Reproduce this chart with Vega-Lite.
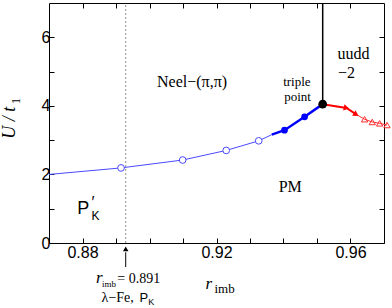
{
  "$schema": "https://vega.github.io/schema/vega-lite/v6.json",
  "width": 335,
  "height": 240,
  "autosize": {"type": "none"},
  "padding": {"left": 49, "top": 3, "right": 8, "bottom": 65},
  "config": {
    "view": {"stroke": null},
    "axis": {"grid": false, "domainColor": "black", "tickColor": "black", "labelColor": "black", "labelFont": "Liberation Sans", "labelFontSize": 16, "title": null, "domainWidth": 1, "tickWidth": 1},
    "text": {"fill": "black", "fontWeight": "normal"}
  },
  "datasets": {
    "dash": [{"x": 0.8929, "y": 0, "y2": 7}],
    "vline": [{"x": 0.9517, "y": 4.05, "y2": 7}],
    "thinBlue": [
      {"x": 0.87, "y": 2.0}, {"x": 0.8915, "y": 2.19}, {"x": 0.9099, "y": 2.42},
      {"x": 0.9229, "y": 2.70}, {"x": 0.9326, "y": 2.98}, {"x": 0.9365, "y": 3.16}
    ],
    "thickBlue": [
      {"x": 0.9365, "y": 3.16}, {"x": 0.9403, "y": 3.29}, {"x": 0.9463, "y": 3.68}, {"x": 0.9517, "y": 4.05}
    ],
    "openCircles": [
      {"x": 0.8915, "y": 2.19}, {"x": 0.9099, "y": 2.42}, {"x": 0.9229, "y": 2.70}, {"x": 0.9326, "y": 2.98}
    ],
    "filledCircles": [{"x": 0.9403, "y": 3.29}, {"x": 0.9463, "y": 3.68}],
    "triple": [{"x": 0.9517, "y": 4.05}],
    "redThick": [{"x": 0.9517, "y": 4.05}, {"x": 0.9588, "y": 3.94}, {"x": 0.9617, "y": 3.75}],
    "redThin": [
      {"x": 0.9617, "y": 3.75}, {"x": 0.9642, "y": 3.61}, {"x": 0.9665, "y": 3.53},
      {"x": 0.9687, "y": 3.49}, {"x": 0.9709, "y": 3.44}
    ],
    "redFilled": [{"x": 0.9588, "y": 3.94}, {"x": 0.9617, "y": 3.75}],
    "redOpen": [{"x": 0.9642, "y": 3.61}, {"x": 0.9665, "y": 3.53}, {"x": 0.9687, "y": 3.49}, {"x": 0.9709, "y": 3.44}],
    "arrow": [{"x": 0.8929, "y": -0.27, "y2": -0.70}],
    "arrowHead": [{"x": 0.8929, "y": -0.17}],
    "serif16": [
      {"x": 0.9127, "y": 4.70, "t": "Neel−(π,π)"},
      {"x": 0.9420, "y": 1.64, "t": "PM"},
      {"x": 0.9609, "y": 5.51, "t": "uudd"},
      {"x": 0.9588, "y": 4.96, "t": "−2"}
    ],
    "serif13": [
      {"x": 0.9440, "y": 4.70, "t": "triple"},
      {"x": 0.9442, "y": 4.26, "t": "point"}
    ]
  },
  "layer": [
    {
      "data": {"name": "dash"},
      "mark": {"type": "rule", "color": "#909090", "strokeWidth": 1, "strokeDash": [2, 2]},
      "encoding": {
        "x": {"field": "x", "type": "quantitative", "scale": {"domain": [0.87, 0.97], "nice": false, "zero": false},
          "axis": {"orient": "bottom", "values": [0.88, 0.89, 0.9, 0.91, 0.92, 0.93, 0.94, 0.95, 0.96], "tickSize": -5, "labelPadding": 6,
            "labelExpr": "indexof(['0.88','0.92','0.96'], format(datum.value, '.2f')) >= 0 ? format(datum.value, '.2f') : ''"}},
        "y": {"field": "y", "type": "quantitative", "scale": {"domain": [0, 7], "nice": false, "zero": false},
          "axis": {"orient": "left", "values": [0, 1, 2, 3, 4, 5, 6], "tickSize": -5, "labelPadding": 4,
            "labelExpr": "datum.value % 2 == 0 ? datum.label : ''"}},
        "y2": {"field": "y2"}
      }
    },
    {
      "data": {"name": "vline"},
      "mark": {"type": "rule", "color": "black", "strokeWidth": 1.5},
      "encoding": {
        "x": {"field": "x", "type": "quantitative", "scale": {"domain": [0.87, 0.97], "nice": false, "zero": false},
          "axis": {"orient": "top", "values": [0.88, 0.89, 0.9, 0.91, 0.92, 0.93, 0.94, 0.95, 0.96], "tickSize": -5, "labels": false}},
        "y": {"field": "y", "type": "quantitative", "scale": {"domain": [0, 7], "nice": false, "zero": false},
          "axis": {"orient": "right", "values": [0, 1, 2, 3, 4, 5, 6], "tickSize": -5, "labels": false}},
        "y2": {"field": "y2"}
      }
    },
    {
      "data": {"name": "thinBlue"},
      "mark": {"type": "line", "color": "#4a4aff", "strokeWidth": 1},
      "encoding": {
        "x": {"field": "x", "type": "quantitative", "axis": null},
        "y": {"field": "y", "type": "quantitative", "axis": null}
      }
    },
    {
      "data": {"name": "thickBlue"},
      "mark": {"type": "line", "color": "#0000ff", "strokeWidth": 2.5},
      "encoding": {
        "x": {"field": "x", "type": "quantitative", "axis": null},
        "y": {"field": "y", "type": "quantitative", "axis": null}
      }
    },
    {
      "data": {"name": "redThick"},
      "mark": {"type": "line", "color": "#ff0000", "strokeWidth": 2},
      "encoding": {
        "x": {"field": "x", "type": "quantitative", "axis": null},
        "y": {"field": "y", "type": "quantitative", "axis": null}
      }
    },
    {
      "data": {"name": "redThin"},
      "mark": {"type": "line", "color": "#ff3030", "strokeWidth": 1},
      "encoding": {
        "x": {"field": "x", "type": "quantitative", "axis": null},
        "y": {"field": "y", "type": "quantitative", "axis": null}
      }
    },
    {
      "data": {"name": "openCircles"},
      "mark": {"type": "point", "shape": "circle", "size": 45, "stroke": "#4a4aff", "strokeWidth": 1, "fill": "white", "filled": false, "opacity": 1},
      "encoding": {
        "x": {"field": "x", "type": "quantitative", "axis": null},
        "y": {"field": "y", "type": "quantitative", "axis": null}
      }
    },
    {
      "data": {"name": "filledCircles"},
      "mark": {"type": "point", "shape": "circle", "size": 45, "color": "#0000ff", "filled": true, "opacity": 1},
      "encoding": {
        "x": {"field": "x", "type": "quantitative", "axis": null},
        "y": {"field": "y", "type": "quantitative", "axis": null}
      }
    },
    {
      "data": {"name": "triple"},
      "mark": {"type": "point", "shape": "circle", "size": 75, "color": "black", "filled": true, "opacity": 1},
      "encoding": {
        "x": {"field": "x", "type": "quantitative", "axis": null},
        "y": {"field": "y", "type": "quantitative", "axis": null}
      }
    },
    {
      "data": {"name": "redFilled"},
      "transform": [{"filter": "datum.x < 0.96"}],
      "mark": {"type": "point", "shape": "triangle-right", "size": 40, "color": "#ff0000", "filled": true, "opacity": 1, "angle": 12},
      "encoding": {
        "x": {"field": "x", "type": "quantitative", "axis": null},
        "y": {"field": "y", "type": "quantitative", "axis": null}
      }
    },
    {
      "data": {"name": "redFilled"},
      "transform": [{"filter": "datum.x > 0.96"}],
      "mark": {"type": "point", "shape": "triangle-right", "size": 40, "color": "#ff0000", "filled": true, "opacity": 1, "angle": 32},
      "encoding": {
        "x": {"field": "x", "type": "quantitative", "axis": null},
        "y": {"field": "y", "type": "quantitative", "axis": null}
      }
    },
    {
      "data": {"name": "redOpen"},
      "mark": {"type": "point", "shape": "triangle-up", "size": 40, "stroke": "#ff3030", "strokeWidth": 1, "filled": false, "opacity": 1},
      "encoding": {
        "x": {"field": "x", "type": "quantitative", "axis": null},
        "y": {"field": "y", "type": "quantitative", "axis": null}
      }
    },
    {
      "data": {"name": "arrow"},
      "mark": {"type": "rule", "color": "black", "strokeWidth": 1},
      "encoding": {
        "x": {"field": "x", "type": "quantitative", "axis": null},
        "y": {"field": "y", "type": "quantitative", "axis": null},
        "y2": {"field": "y2"}
      }
    },
    {
      "data": {"name": "arrowHead"},
      "mark": {"type": "point", "shape": "triangle-up", "size": 30, "color": "black", "filled": true, "opacity": 1},
      "encoding": {
        "x": {"field": "x", "type": "quantitative", "axis": null},
        "y": {"field": "y", "type": "quantitative", "axis": null}
      }
    },
    {
      "data": {"name": "serif16"},
      "mark": {"type": "text", "font": "Liberation Serif", "fontSize": 16, "fill": "black", "align": "center", "baseline": "middle"},
      "encoding": {
        "x": {"field": "x", "type": "quantitative", "axis": null},
        "y": {"field": "y", "type": "quantitative", "axis": null},
        "text": {"field": "t"}
      }
    },
    {
      "data": {"name": "serif13"},
      "mark": {"type": "text", "font": "Liberation Serif", "fontSize": 13, "fill": "black", "align": "center", "baseline": "middle"},
      "encoding": {
        "x": {"field": "x", "type": "quantitative", "axis": null},
        "y": {"field": "y", "type": "quantitative", "axis": null},
        "text": {"field": "t"}
      }
    },
    {
      "data": {"values": [{"x": 0.8802, "y": 1.005, "t": "P"}]},
      "mark": {"type": "text", "font": "Liberation Sans", "fontSize": 18, "fill": "black", "align": "center", "baseline": "middle"},
      "encoding": {
        "x": {"field": "x", "type": "quantitative", "axis": null},
        "y": {"field": "y", "type": "quantitative", "axis": null},
        "text": {"field": "t"}
      }
    },
    {
      "data": {"values": [{"x": 0.8831, "y": 1.17, "t": "′"}]},
      "mark": {"type": "text", "font": "Liberation Sans", "fontSize": 16, "fill": "black", "align": "center", "baseline": "middle"},
      "encoding": {
        "x": {"field": "x", "type": "quantitative", "axis": null},
        "y": {"field": "y", "type": "quantitative", "axis": null},
        "text": {"field": "t"}
      }
    },
    {
      "data": {"values": [{"x": 0.8839, "y": 0.78, "t": "K"}]},
      "mark": {"type": "text", "font": "Liberation Sans", "fontSize": 12, "fill": "black", "align": "center", "baseline": "middle"},
      "encoding": {
        "x": {"field": "x", "type": "quantitative", "axis": null},
        "y": {"field": "y", "type": "quantitative", "axis": null},
        "text": {"field": "t"}
      }
    },
    {
      "data": {"values": [{"x": 0.8840, "y": -1.18, "t": "r"}, {"x": 0.9167, "y": -1.35, "t": "r"}]},
      "mark": {"type": "text", "font": "Liberation Serif", "fontStyle": "italic", "fontSize": 17, "fill": "black", "align": "left", "baseline": "alphabetic"},
      "encoding": {
        "x": {"field": "x", "type": "quantitative", "axis": null},
        "y": {"field": "y", "type": "quantitative", "axis": null},
        "text": {"field": "t"}
      }
    },
    {
      "data": {"values": [{"x": 0.8858, "y": -1.27, "t": "imb"}]},
      "mark": {"type": "text", "font": "Liberation Serif", "fontSize": 9, "fill": "black", "align": "left", "baseline": "alphabetic"},
      "encoding": {
        "x": {"field": "x", "type": "quantitative", "axis": null},
        "y": {"field": "y", "type": "quantitative", "axis": null},
        "text": {"field": "t"}
      }
    },
    {
      "data": {"values": [{"x": 0.9194, "y": -1.47, "t": "imb"}]},
      "mark": {"type": "text", "font": "Liberation Serif", "fontSize": 13, "fill": "black", "align": "left", "baseline": "alphabetic"},
      "encoding": {
        "x": {"field": "x", "type": "quantitative", "axis": null},
        "y": {"field": "y", "type": "quantitative", "axis": null},
        "text": {"field": "t"}
      }
    },
    {
      "data": {"values": [{"x": 0.8904, "y": -1.18, "t": "= 0.891"}, {"x": 0.8857, "y": -1.73, "t": "λ−Fe,"}]},
      "mark": {"type": "text", "font": "Liberation Serif", "fontSize": 14, "fill": "black", "align": "left", "baseline": "alphabetic"},
      "encoding": {
        "x": {"field": "x", "type": "quantitative", "axis": null},
        "y": {"field": "y", "type": "quantitative", "axis": null},
        "text": {"field": "t"}
      }
    },
    {
      "data": {"values": [{"x": 0.8970, "y": -1.73, "t": "P"}]},
      "mark": {"type": "text", "font": "Liberation Sans", "fontSize": 13, "fill": "black", "align": "left", "baseline": "alphabetic"},
      "encoding": {
        "x": {"field": "x", "type": "quantitative", "axis": null},
        "y": {"field": "y", "type": "quantitative", "axis": null},
        "text": {"field": "t"}
      }
    },
    {
      "data": {"values": [{"x": 0.8996, "y": -1.82, "t": "K"}]},
      "mark": {"type": "text", "font": "Liberation Sans", "fontSize": 9, "fill": "black", "align": "left", "baseline": "alphabetic"},
      "encoding": {
        "x": {"field": "x", "type": "quantitative", "axis": null},
        "y": {"field": "y", "type": "quantitative", "axis": null},
        "text": {"field": "t"}
      }
    },
    {
      "data": {"values": [{"x": 0.8585, "y": 3.51, "t": "U / t"}]},
      "mark": {"type": "text", "font": "Liberation Serif", "fontStyle": "italic", "fontSize": 18, "fill": "black", "align": "center", "baseline": "middle", "angle": -90},
      "encoding": {
        "x": {"field": "x", "type": "quantitative", "axis": null},
        "y": {"field": "y", "type": "quantitative", "axis": null},
        "text": {"field": "t"}
      }
    },
    {
      "data": {"values": [{"x": 0.8600, "y": 4.14, "t": "1"}]},
      "mark": {"type": "text", "font": "Liberation Serif", "fontSize": 12, "fill": "black", "align": "center", "baseline": "middle", "angle": -90},
      "encoding": {
        "x": {"field": "x", "type": "quantitative", "axis": null},
        "y": {"field": "y", "type": "quantitative", "axis": null},
        "text": {"field": "t"}
      }
    }
  ],
  "resolve": {"axis": {"x": "independent", "y": "independent"}}
}
